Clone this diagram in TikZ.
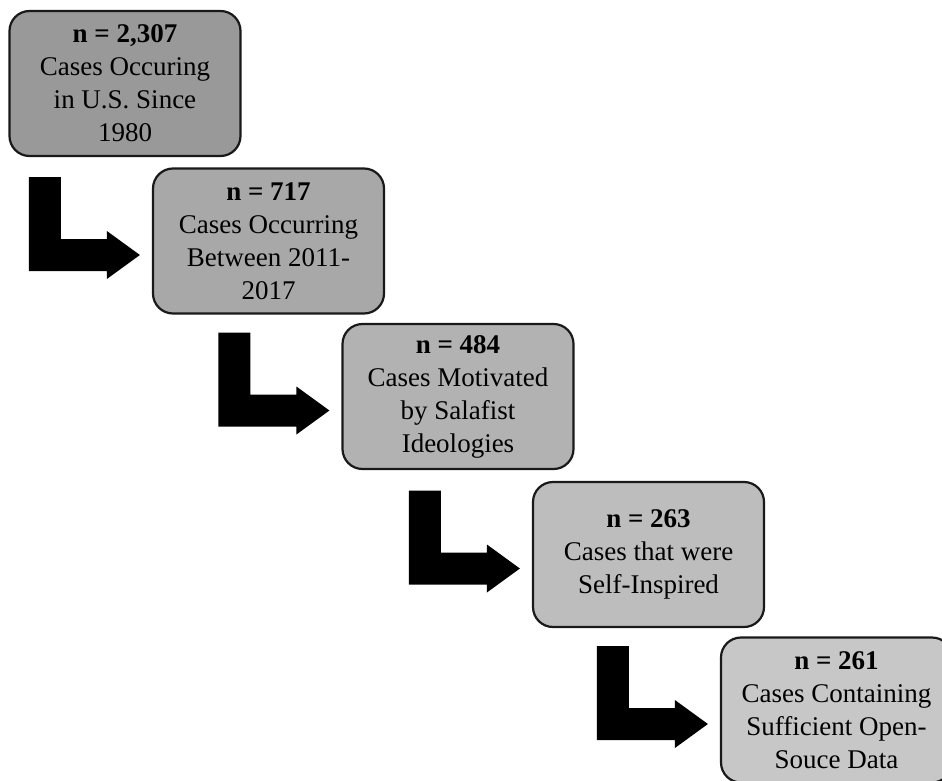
\documentclass[tikz,border=0pt]{standalone}
\usepackage{fontspec}
\setmainfont{Liberation Serif}
\usetikzlibrary{calc}

\definecolor{stageA}{gray}{0.60}
\definecolor{stageB}{gray}{0.66}
\definecolor{stageC}{gray}{0.70}
\definecolor{stageD}{gray}{0.74}
\definecolor{stageE}{gray}{0.78}

\tikzset{
  stagebox/.style={draw=black!90, line width=2.2pt, rounded corners=20pt,
    minimum width=231pt, minimum height=145pt, inner sep=0pt,
    align=center, font=\fontsize{27}{33}\selectfont},
  % bent block arrow, drawn with its tip at the pic origin
  bentarrow/.pic={
    \fill[black] (-111,-78) -- (-79,-78) -- (-79,-16) -- (-33,-16) -- (-33,-24)
      -- (0,0) -- (-33,24) -- (-33,16) -- (-111,16) -- cycle;
  }
}

\begin{document}
\begin{tikzpicture}[x=1pt, y=-1pt]
  \useasboundingbox (0,0) rectangle (942,781);
  \clip (0,0) rectangle (942,781);

  \node[stagebox, fill=stageA] (b1) at (125,83.5)
    {\textbf{n = 2,307}\\Cases Occuring\\in U.S. Since\\1980};
  \node[stagebox, fill=stageB] (b2) at (268.5,241)
    {\textbf{n = 717}\\Cases Occurring\\Between 2011-\\2017};
  \node[stagebox, fill=stageC] (b3) at (458,396.5)
    {\textbf{n = 484}\\Cases Motivated\\by Salafist\\Ideologies};
  \node[stagebox, fill=stageD] (b4) at (648.5,554.5)
    {\textbf{n = 263}\\Cases that were\\Self-Inspired};
  \node[stagebox, fill=stageE] (b5) at (836.5,710)
    {\textbf{n = 261}\\Cases Containing\\Sufficient Open-\\Souce Data};

  % arrow tips sit just left of each following box
  \coordinate (t1) at ($(b2.west)+(-12,14)$);
  \coordinate (t2) at ($(b3.west)+(-12,14)$);
  \coordinate (t3) at ($(b4.west)+(-12,14)$);
  \coordinate (t4) at ($(b5.west)+(-12,14)$);
  \foreach \t in {t1,t2,t3,t4} { \pic at (\t) {bentarrow}; }
\end{tikzpicture}
\end{document}
